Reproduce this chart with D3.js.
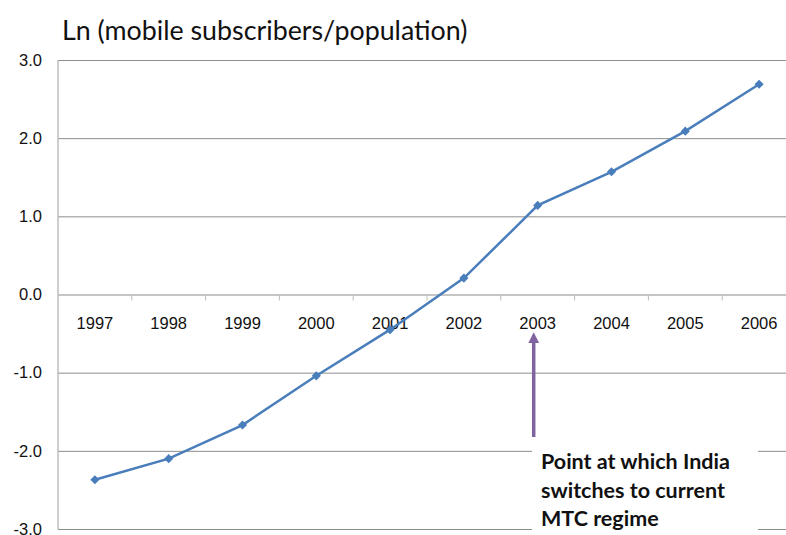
<!DOCTYPE html>
<html>
<head>
<meta charset="utf-8">
<script src="https://cdn.jsdelivr.net/npm/d3@7"></script>
<style>
  body { margin: 0; background: #fff; }
  svg { font-family: Lato, "Open Sans", sans-serif; }
</style>
</head>
<body>
<svg class="chart"></svg>
<script>
var years = ["1997", "1998", "1999", "2000", "2001", "2002", "2003", "2004", "2005", "2006"];
var lnValues = [-2.37, -2.10, -1.67, -1.04, -0.45, 0.21, 1.14, 1.57, 2.09, 2.69];
var yTicks = [-3, -2, -1, 0, 1, 2, 3];
var noteLines = ["Point at which India", "switches to current", "MTC regime"];
var noteYear = "2003";

var width = 786, height = 535;
var margin = {top: 60, left: 58};
var plotW = 738, plotH = 469;

var svg = d3.select(".chart")
    .attr("width", width)
    .attr("height", height);

var x = d3.scaleBand()
    .domain(years)
    .range([margin.left, margin.left + plotW]);

var y = d3.scaleLinear()
    .domain([-3, 3])
    .range([margin.top + plotH, margin.top]);

// title
svg.append("text")
    .attr("x", 62)
    .attr("y", 40)
    .attr("font-size", 26.8)
    .attr("fill", "#111")
    .text("Ln (mobile subscribers/population)");

// gridlines + y labels
var yAxis = d3.axisLeft(y)
    .tickValues(yTicks)
    .tickSize(-plotW)
    .tickPadding(16)
    .tickFormat(d3.format(".1f"));

svg.append("g")
    .attr("transform", "translate(" + margin.left + ",0)")
    .call(yAxis)
    .call(function(g) {
        g.select(".domain").remove();
        g.selectAll(".tick line").attr("stroke", "#8c8c8c");
        g.selectAll(".tick text").attr("font-size", 16.5).attr("fill", "#111")
            .text(function(d) { return d3.format(".1f")(d).replace("\u2212", "-"); });
    });

// vertical axis line
svg.append("line")
    .attr("x1", margin.left).attr("x2", margin.left)
    .attr("y1", margin.top).attr("y2", margin.top + plotH)
    .attr("stroke", "#bdbdbd")
    .attr("stroke-width", 1.5);

// x axis at zero
var xAxis = d3.axisBottom(x)
    .tickSize(0)
    .tickPadding(23);

svg.append("g")
    .attr("transform", "translate(0," + y(0) + ")")
    .call(xAxis)
    .call(function(g) {
        g.select(".domain").remove();
        g.selectAll(".tick text").attr("font-size", 16.5).attr("fill", "#111");
    });

svg.append("g")
    .selectAll("line")
    .data(years.slice(1))
    .enter().append("line")
    .attr("x1", function(d) { return x(d); })
    .attr("x2", function(d) { return x(d); })
    .attr("y1", y(0))
    .attr("y2", y(0) + 6)
    .attr("stroke", "#bdbdbd");

// series line
var line = d3.line()
    .x(function(d, i) { return x(years[i]) + x.bandwidth() / 2; })
    .y(function(d) { return y(d); });

svg.append("path")
    .datum(lnValues)
    .attr("d", line)
    .attr("fill", "none")
    .attr("stroke", "#4a7ebb")
    .attr("stroke-width", 2.5);

svg.append("g")
    .selectAll("path")
    .data(lnValues)
    .enter().append("path")
    .attr("d", d3.symbol().type(d3.symbolSquare).size(42))
    .attr("transform", function(d, i) {
        return "translate(" + (x(years[i]) + x.bandwidth() / 2) + "," + y(d) + ") rotate(45)";
    })
    .attr("fill", "#4a7ebb");

// annotation
var ax = x(noteYear) + x.bandwidth() / 2 - 4;
svg.append("defs").append("marker")
    .attr("id", "head")
    .attr("viewBox", "0 0 10 10")
    .attr("refX", 3).attr("refY", 5)
    .attr("markerWidth", 3.2).attr("markerHeight", 3.2)
    .attr("orient", "auto")
    .append("path")
    .attr("d", "M0,0L10,5L0,10z")
    .attr("fill", "#8064a2");

svg.append("line")
    .attr("x1", ax).attr("x2", ax)
    .attr("y1", 437).attr("y2", 340)
    .attr("stroke", "#8064a2")
    .attr("stroke-width", 3.5)
    .attr("marker-end", "url(#head)");

svg.append("rect")
    .attr("x", 532).attr("y", 448)
    .attr("width", 226).attr("height", 82)
    .attr("fill", "#fff");

svg.append("g")
    .selectAll("text")
    .data(noteLines)
    .enter().append("text")
    .attr("x", 541)
    .attr("y", function(d, i) { return 469 + i * 28.5; })
    .attr("font-size", 21.5)
    .attr("font-weight", "bold")
    .attr("fill", "#111")
    .text(function(d) { return d; });
</script>
</body>
</html>
